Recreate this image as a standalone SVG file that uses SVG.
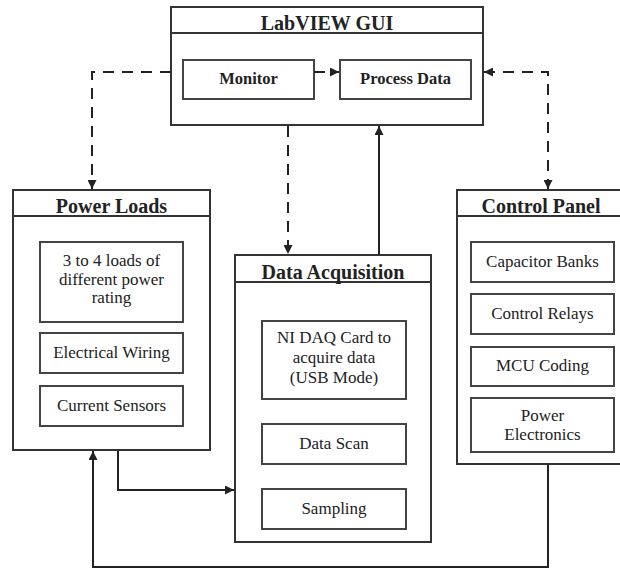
<svg xmlns="http://www.w3.org/2000/svg" width="620" height="569" viewBox="0 0 620 569">
<style>
.box{fill:#fff;stroke:#333;stroke-width:2}
.inner{fill:#fff;stroke:#444;stroke-width:2}
.sep{stroke:#333;stroke-width:2}
text{font-family:'Liberation Serif','Times New Roman','DejaVu Serif',serif}
.title{font-weight:bold;font-size:20px;fill:#222;text-anchor:middle}
.sub{font-weight:bold;font-size:16.5px;fill:#222;text-anchor:middle}
.t{font-size:17px;fill:#222;text-anchor:middle}
.c{fill:none;stroke:#222;stroke-width:2}
.d{stroke-dasharray:11 8}
</style>
<defs>
<marker id="ah" viewBox="0 0 10 10" refX="10" refY="5" markerWidth="4.5" markerHeight="4.5" orient="auto-start-reverse" markerUnits="strokeWidth">
<path d="M0,0 L10,5 L0,10 z" fill="#222"/>
</marker>
</defs>
<rect width="620" height="569" fill="#fff"/>
<g id="labview">
<rect class="box" x="171" y="7" width="312" height="118"/>
<line class="sep" x1="171" y1="33" x2="483" y2="33"/>
<text class="title" x="327" y="30">LabVIEW GUI</text>
</g>
<g id="monitor">
<rect class="inner" x="183" y="60" width="131" height="39"/>
<text class="sub" x="248.5" y="84">Monitor</text>
</g>
<g id="process">
<rect class="inner" x="340" y="60" width="131" height="39"/>
<text class="sub" x="405.5" y="84">Process Data</text>
</g>
<g id="powerloads">
<rect class="box" x="13" y="190" width="197" height="260"/>
<line class="sep" x1="13" y1="216" x2="210" y2="216"/>
<text class="title" x="111.5" y="213">Power Loads</text>
<rect class="inner" x="40" y="242" width="143" height="80"/>
<text class="t" x="111.5" y="266">3 to 4 loads of</text>
<text class="t" x="111.5" y="284.5">different power</text>
<text class="t" x="111.5" y="303">rating</text>
<rect class="inner" x="40" y="333" width="143" height="40"/>
<text class="t" x="111.5" y="358">Electrical Wiring</text>
<rect class="inner" x="40" y="386" width="143" height="40"/>
<text class="t" x="111.5" y="411">Current Sensors</text>
</g>
<g id="daq">
<rect class="box" x="235" y="255" width="196" height="287"/>
<line class="sep" x1="235" y1="282" x2="431" y2="282"/>
<text class="title" x="333" y="279">Data Acquisition</text>
<rect class="inner" x="262" y="321" width="144" height="78"/>
<text class="t" x="334" y="343">NI DAQ Card to</text>
<text class="t" x="334" y="363">acquire data</text>
<text class="t" x="334" y="383">(USB Mode)</text>
<rect class="inner" x="262" y="424" width="144" height="40"/>
<text class="t" x="334" y="449">Data Scan</text>
<rect class="inner" x="262" y="489" width="144" height="40"/>
<text class="t" x="334" y="514">Sampling</text>
</g>
<g id="control">
<rect class="box" x="457" y="190" width="170" height="274"/>
<line class="sep" x1="457" y1="216" x2="627" y2="216"/>
<text class="title" x="541" y="213">Control Panel</text>
<rect class="inner" x="471" y="242" width="143" height="40"/>
<text class="t" x="542.5" y="267">Capacitor Banks</text>
<rect class="inner" x="471" y="294" width="143" height="40"/>
<text class="t" x="542.5" y="319">Control Relays</text>
<rect class="inner" x="471" y="347" width="143" height="39"/>
<text class="t" x="542.5" y="371">MCU Coding</text>
<rect class="inner" x="471" y="398" width="143" height="54"/>
<text class="t" x="542.5" y="421">Power</text>
<text class="t" x="542.5" y="440">Electronics</text>
</g>
<g id="connectors">
<path class="c d" d="M314,72 H339" marker-end="url(#ah)"/>
<path class="c d" d="M171,72 H92 V189" marker-end="url(#ah)"/>
<path class="c d" d="M484,72 H548 V189" marker-start="url(#ah)" marker-end="url(#ah)"/>
<path class="c d" d="M288,126 V254" marker-end="url(#ah)"/>
<path class="c" d="M379,255 V126" marker-end="url(#ah)"/>
<path class="c" d="M118,451 V490 H234" marker-end="url(#ah)"/>
<path class="c" d="M548,465 V567 H93 V451" marker-end="url(#ah)"/>
</g>
</svg>
